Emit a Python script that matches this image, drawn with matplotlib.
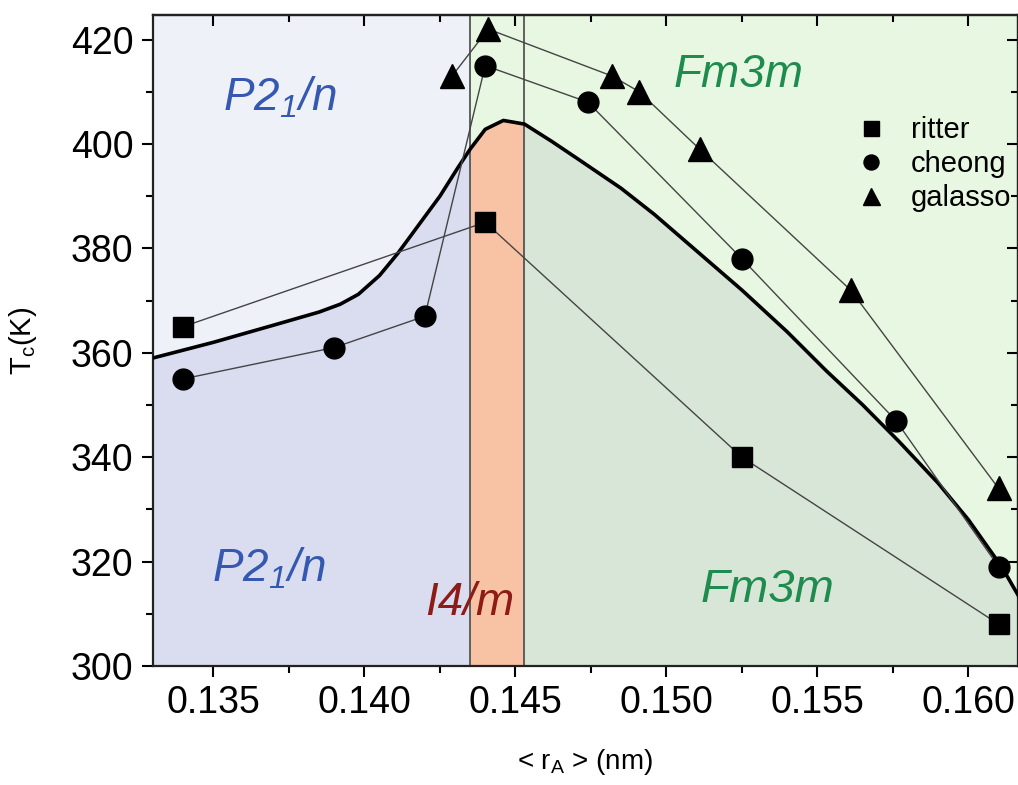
import numpy as np
import matplotlib
matplotlib.use("Agg")
import matplotlib.pyplot as plt
from matplotlib.ticker import MultipleLocator

plt.rcParams['font.family'] = ['Liberation Sans', 'DejaVu Sans']
plt.rcParams['mathtext.fontset'] = 'custom'
plt.rcParams['mathtext.rm'] = 'Liberation Sans:italic'
plt.rcParams['mathtext.it'] = 'Liberation Sans:italic'

# data
ritter_r = [0.134, 0.144, 0.1525, 0.161]
ritter_tc = [365, 385, 340, 308]

cheong_r = [0.134, 0.139, 0.142, 0.144, 0.1474, 0.1525, 0.1576, 0.161]
cheong_tc = [355, 361, 367, 415, 408, 378, 347, 319]

galasso_r = [0.1429, 0.1441, 0.1482, 0.1491, 0.1511, 0.1561, 0.161]
galasso_tc = [413, 422, 413, 410, 399, 372, 334]

# phase boundary (thick curve)
bound_r = [0.133, 0.135, 0.137, 0.1385, 0.1392, 0.1398, 0.1405, 0.1411, 0.1418,
           0.1425, 0.1431, 0.1435, 0.1440, 0.1446, 0.1453, 0.1462, 0.1471,
           0.1485, 0.1496, 0.1510, 0.1525, 0.1540, 0.1553, 0.1565, 0.1577,
           0.1590, 0.1600, 0.1611, 0.1617]
bound_tc = [359, 362, 365.3, 367.8, 369.3, 371.2, 374.8, 379, 384.5,
            390, 395.5, 399, 402.8, 404.5, 403.8, 400.5, 397,
            391.5, 386.5, 379.5, 372, 364, 356.5, 350, 343,
            335, 328, 319, 313]

# structural transitions
r_p21n_i4m = 0.1435
r_i4m_fm3m = 0.1453

xmin, xmax = 0.133, 0.16164
ymin, ymax = 300, 424.7

fig = plt.figure(figsize=(10.18, 7.85), dpi=100)
ax = fig.add_axes([0.1503, 0.1516, 0.8497, 0.8293])
ax.set_xlim(xmin, xmax)
ax.set_ylim(ymin, ymax)

# background regions
ax.axvspan(xmin, r_p21n_i4m, color='#eef1f8', lw=0, zorder=0)
ax.axvspan(r_p21n_i4m, xmax, color='#e8f7e1', lw=0, zorder=0)

bx = np.array(bound_r)
by = np.array(bound_tc)
ax.fill_between(bx, ymin, by, where=bx <= r_p21n_i4m, color='#d9ddef', lw=0, zorder=1)
ax.fill_between(bx, ymin, by, where=(bx >= r_p21n_i4m) & (bx <= r_i4m_fm3m),
                color='#f8c3a5', lw=0, zorder=1)
ax.fill_between(bx, ymin, by, where=bx >= r_i4m_fm3m, color='#d8e6d7', lw=0, zorder=1)

ax.axvline(r_p21n_i4m, color='#555555', lw=1.3, zorder=2)
ax.axvline(r_i4m_fm3m, color='#555555', lw=1.3, zorder=2)

ax.plot(bx, by, color='black', lw=2.6, zorder=3, solid_joinstyle='round')

# data series
ax.plot(ritter_r, ritter_tc, color='#444444', lw=1.0, zorder=4)
ax.plot(cheong_r, cheong_tc, color='#444444', lw=1.0, zorder=4)
ax.plot(galasso_r, galasso_tc, color='#444444', lw=1.0, zorder=4)
ax.plot(ritter_r, ritter_tc, 's', color='black', ms=15, ls='none', zorder=5, label='ritter')
ax.plot(cheong_r, cheong_tc, 'o', color='black', ms=15, ls='none', zorder=5, label='cheong')
ax.plot(galasso_r, galasso_tc, '^', color='black', ms=17, ls='none', zorder=5, label='galasso')

leg = ax.legend(loc='upper left', bbox_to_anchor=(0.80, 0.862), frameon=False,
                fontsize=21, markerscale=0.72, handlelength=1.0, handletextpad=0.85,
                labelspacing=0.2, borderaxespad=0)

# phase labels
blue = '#3558b0'
green = '#1f8c4f'
red = '#8e1b16'
ax.text(0.1372, 406.5, r'$\mathrm{P2_1/n}$', color=blue, fontsize=33, ha='center', va='baseline')
ax.text(0.13684, 316.1, r'$\mathrm{P2_1/n}$', color=blue, fontsize=33, ha='center', va='baseline')
ax.text(0.1435, 309.8, 'I4/m', color=red, fontsize=33, style='italic', ha='center', va='baseline')
ax.text(0.1524, 410.9, 'Fm3m', color=green, fontsize=33, style='italic', ha='center', va='baseline')
ax.text(0.15336, 312.3, 'Fm3m', color=green, fontsize=34, style='italic', ha='center', va='baseline')

# axes and ticks
ax.set_xticks([0.135, 0.140, 0.145, 0.150, 0.155, 0.160])
ax.set_xticklabels(['0.135', '0.140', '0.145', '0.150', '0.155', '0.160'])
ax.set_yticks([300, 320, 340, 360, 380, 400, 420])
ax.xaxis.set_minor_locator(MultipleLocator(0.0025))
ax.yaxis.set_minor_locator(MultipleLocator(10))
ax.tick_params(which='major', direction='out', length=8, width=1.5, labelsize=27, pad=6)
ax.tick_params(which='minor', direction='out', length=5, width=1.5)

top = ax.secondary_xaxis('top')
top.set_xticks([0.135, 0.140, 0.145, 0.150, 0.155, 0.160])
top.xaxis.set_minor_locator(MultipleLocator(0.0025))
top.tick_params(which='major', direction='in', length=8, width=1.5, labeltop=False)
top.tick_params(which='minor', direction='in', length=5, width=1.5)
right = ax.secondary_yaxis('right')
right.set_yticks([300, 320, 340, 360, 380, 400, 420])
right.yaxis.set_minor_locator(MultipleLocator(10))
right.tick_params(which='major', direction='in', length=8, width=1.5, labelright=False)
right.tick_params(which='minor', direction='in', length=5, width=1.5)

for sp in list(ax.spines.values()) + [top.spines['top'], right.spines['right']]:
    sp.set_linewidth(1.6)
    sp.set_color('#222222')

ax.set_xlabel(r'< r$_\mathregular{A}$ > (nm)', fontsize=20)
ax.set_ylabel(r'T$_\mathregular{c}$(K)', fontsize=21)
ax.xaxis.set_label_coords(0.5, -0.125)
ax.yaxis.set_label_coords(-0.132, 0.5)

fig.savefig('out.png', dpi=100)
